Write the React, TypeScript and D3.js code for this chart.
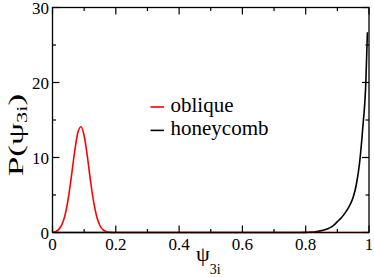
// P(psi_3i) for the oblique and honeycomb lattices, drawn through a ref
import React, { useRef, useEffect } from "react";
import * as d3 from "d3";

// red curve: oblique
const obliqueX = [0, 0.01, 0.02, 0.03, 0.04, 0.05, 0.06, 0.07, 0.08, 0.09, 0.1, 0.11, 0.12, 0.13, 0.14, 0.15, 0.16, 0.17, 0.18, 0.19, 0.2, 0.4, 0.6, 0.8, 1.0];
const obliqueY = [0.04, 0.14, 0.42, 1.08, 2.38, 4.58, 7.57, 10.8, 13.3, 14.1, 12.9, 10.2, 6.9, 4.07, 2.06, 0.9, 0.34, 0.11, 0.03, 0.01, 0, 0, 0, 0, 0];

// black curve: honeycomb
const honeycombX = [0, 0.2, 0.4, 0.6, 0.78, 0.8, 0.81, 0.82, 0.83, 0.84, 0.85, 0.86, 0.87, 0.88, 0.89, 0.9, 0.91, 0.92, 0.93, 0.94, 0.95, 0.96, 0.97, 0.98, 0.99, 0.995];
const honeycombY = [0, 0, 0, 0, 0, 0.02, 0.04, 0.07, 0.11, 0.17, 0.25, 0.36, 0.51, 0.72, 1.03, 1.45, 1.85, 2.35, 2.95, 3.7, 4.7, 6.4, 9.2, 13.8, 20.0, 26.7];

const xMajor = [0, 0.2, 0.4, 0.6, 0.8, 1];
const xMinor = [0.1, 0.3, 0.5, 0.7, 0.9];
const xTickLabels = ["0", "0.2", "0.4", "0.6", "0.8", "1"];
const yMajor = [0, 10, 20, 30];
const yMinor = [5, 15, 25];
const yTickLabels = ["0", "10", "20", "30"];

const seriesNames = ["oblique", "honeycomb"];
const seriesColors = ["#ff0000", "#000000"];

const width = 374;
const height = 277;
const font = '"Liberation Serif", "Times New Roman", Times, serif';

const App: React.FC = () => {
    const svgRef = useRef<SVGSVGElement | null>(null);

    useEffect(() => {
        if (!svgRef.current) return;
        const svg = d3.select(svgRef.current);
        svg.selectAll("*").remove();

        const x = d3.scaleLinear().domain([0, 1]).range([52.5, 369]);
        const y = d3.scaleLinear().domain([0, 30]).range([232.5, 7.5]);
        const [x0, x1] = x.range();
        const [y0, y1] = y.range();

        svg.append("rect").attr("width", width).attr("height", height).attr("fill", "#fff");

        const line = d3
            .line<[number, number]>()
            .x((d) => x(d[0]))
            .y((d) => y(d[1]))
            .curve(d3.curveMonotoneX);

        const series = [
            obliqueX.map((v, i) => [v, obliqueY[i]] as [number, number]),
            honeycombX.map((v, i) => [v, honeycombY[i]] as [number, number]),
        ];

        // black under red
        [1, 0].forEach((k) => {
            svg.append("path")
                .attr("d", line(series[k]))
                .attr("fill", "none")
                .attr("stroke", seriesColors[k])
                .attr("stroke-width", 1.6);
        });

        // frame
        svg.append("rect")
            .attr("x", x0).attr("y", y1)
            .attr("width", x1 - x0).attr("height", y0 - y1)
            .attr("fill", "none").attr("stroke", "#000").attr("stroke-width", 1.3);

        // inward ticks on all four sides
        const ticks = svg.append("g").attr("stroke", "#000").attr("stroke-width", 1.2);
        const xt = [...xMajor.map((t) => [t, 7]), ...xMinor.map((t) => [t, 3.5])];
        xt.forEach(([t, len]) => {
            ticks.append("line").attr("x1", x(t)).attr("x2", x(t)).attr("y1", y0).attr("y2", y0 - len);
            ticks.append("line").attr("x1", x(t)).attr("x2", x(t)).attr("y1", y1).attr("y2", y1 + len);
        });
        const yt = [...yMajor.map((t) => [t, 7]), ...yMinor.map((t) => [t, 3.5])];
        yt.forEach(([t, len]) => {
            ticks.append("line").attr("x1", x0).attr("x2", x0 + len).attr("y1", y(t)).attr("y2", y(t));
            ticks.append("line").attr("x1", x1).attr("x2", x1 - len).attr("y1", y(t)).attr("y2", y(t));
        });

        const txt = svg.append("g").style("font-family", font).attr("fill", "#000");

        xMajor.forEach((t, i) => {
            txt.append("text")
                .attr("x", x(t)).attr("y", y0 + 17.5)
                .attr("text-anchor", "middle").attr("font-size", 17)
                .text(xTickLabels[i]);
        });
        yMajor.forEach((t, i) => {
            txt.append("text")
                .attr("x", x0 - 3.5).attr("y", y(t) + 6.5)
                .attr("text-anchor", "end").attr("font-size", 17)
                .text(yTickLabels[i]);
        });

        // x title
        const xt2 = txt.append("text").attr("x", 196).attr("y", 261).attr("font-size", 22);
        xt2.append("tspan").text("ψ");
        xt2.append("tspan").attr("font-size", 14).attr("dy", 13).text("3i");

        // y title
        const yt2 = txt.append("text")
            .attr("transform", "translate(23,135) rotate(-90) scale(1.6,1)")
            .attr("text-anchor", "middle").attr("font-size", 22);
        yt2.append("tspan").text("P(ψ");
        yt2.append("tspan").attr("font-size", 14).attr("dy", 4).text("3i");
        yt2.append("tspan").attr("dy", -4).text(")");

        // legend
        seriesNames.forEach((name, i) => {
            const ly = 107 + i * 23.4;
            svg.append("line")
                .attr("x1", 150.5).attr("x2", 164).attr("y1", ly).attr("y2", ly)
                .attr("stroke", seriesColors[i]).attr("stroke-width", 1.6);
            txt.append("text")
                .attr("x", 170.5).attr("y", ly + 4.8)
                .attr("font-size", 21)
                .text(name);
        });
    }, []);

    return <svg ref={svgRef} width={width} height={height} style={{ position: "absolute", left: 0, top: 0 }}></svg>;
};

export default App;
